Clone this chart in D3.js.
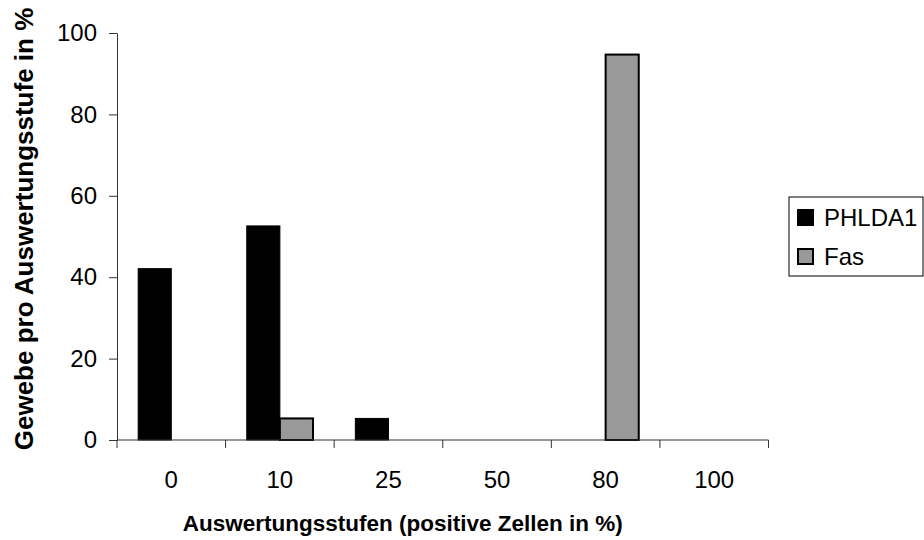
<!DOCTYPE html>
<html>
<head>
<meta charset="utf-8">
<script src="https://cdn.jsdelivr.net/npm/d3@7"></script>
<style>
  body { margin: 0; background: #fff; }
  text { font-family: "Liberation Sans", Arial, sans-serif; }
</style>
</head>
<body>
<div id="chart"></div>
<script>
// categories (Auswertungsstufen) and values in %
var categories = ["0", "10", "25", "50", "80", "100"];
var seriesNames = ["PHLDA1", "Fas"];
var phlda1 = [42.1, 52.6, 5.3, 0, 0, 0];
var fas = [0, 5.3, 0, 0, 94.7, 0];
var yTicks = [0, 20, 40, 60, 80, 100];

var width = 924, height = 540;
var margin = { top: 33, right: 156, bottom: 100, left: 117 };

var svg = d3.select("#chart")
  .append("svg")
  .attr("width", width)
  .attr("height", height);

var x = d3.scaleBand()
  .domain(categories)
  .range([margin.left, 768.5]);

var groupW = x.bandwidth() * 0.61;
var x1 = d3.scaleBand()
  .domain(seriesNames)
  .range([(x.bandwidth() - groupW) / 2, (x.bandwidth() + groupW) / 2]);

var y = d3.scaleLinear()
  .domain([0, 100])
  .range([height - margin.bottom, margin.top]);

var color = { PHLDA1: "#000000", Fas: "#999999" };

var rows = categories.map(function(c, i) {
  return { cat: c, values: [
    { key: "PHLDA1", value: phlda1[i] },
    { key: "Fas", value: fas[i] }
  ] };
});

// bars
var groups = svg.append("g").selectAll("g")
  .data(rows)
  .enter()
  .append("g")
  .attr("transform", function(d) { return "translate(" + x(d.cat) + ",0)"; });

groups.selectAll("rect")
  .data(function(d) { return d.values.filter(function(v) { return v.value > 0; }); })
  .enter()
  .append("rect")
  .attr("x", function(d) { return x1(d.key); })
  .attr("y", function(d) { return y(d.value); })
  .attr("width", x1.bandwidth())
  .attr("height", function(d) { return y(0) - y(d.value); })
  .attr("fill", function(d) { return color[d.key]; })
  .attr("stroke", "#000")
  .attr("stroke-width", function(d) { return d.key == "Fas" ? 2 : 1; });

// y axis
var yAxis = svg.append("g")
  .attr("transform", "translate(" + margin.left + ",0)")
  .call(d3.axisLeft(y).tickValues(yTicks).tickSize(8).tickSizeOuter(0).tickPadding(12));
yAxis.selectAll("text").attr("font-size", 24).attr("fill", "#000")
  .style("font-family", "'Liberation Sans', Arial, sans-serif");
yAxis.selectAll("line, path").attr("stroke", "#333");

// x axis: ticks on band boundaries
var xAxisG = svg.append("g")
  .attr("transform", "translate(0," + y(0) + ")");
xAxisG.append("line")
  .attr("x1", x.range()[0]).attr("x2", x.range()[1])
  .attr("stroke", "#333");
var bounds = categories.map(function(c) { return x(c); }).concat([x.range()[1]]);
xAxisG.selectAll(".tk")
  .data(bounds)
  .enter()
  .append("line")
  .attr("x1", function(d) { return d; })
  .attr("x2", function(d) { return d; })
  .attr("y1", 0).attr("y2", 8)
  .attr("stroke", "#333");
xAxisG.selectAll(".lbl")
  .data(categories)
  .enter()
  .append("text")
  .attr("x", function(d) { return x(d) + x.bandwidth() / 2; })
  .attr("y", 48)
  .attr("text-anchor", "middle")
  .attr("font-size", 24)
  .text(function(d) { return d; });

// axis titles
svg.append("text")
  .attr("x", (x.range()[0] + x.range()[1]) / 2 - 40)
  .attr("y", 531)
  .attr("text-anchor", "middle")
  .attr("font-size", 22.5)
  .attr("font-weight", "bold")
  .text("Auswertungsstufen (positive Zellen in %)");

svg.append("text")
  .attr("transform", "translate(33," + 229 + ") rotate(-90)")
  .attr("text-anchor", "middle")
  .attr("font-size", 26)
  .attr("font-weight", "bold")
  .text("Gewebe pro Auswertungsstufe in %");

// legend
var legend = svg.append("g").attr("transform", "translate(789,197)");
legend.append("rect")
  .attr("width", 134).attr("height", 79)
  .attr("fill", "#fff").attr("stroke", "#000").attr("stroke-width", 1);
var items = legend.selectAll(".item")
  .data(seriesNames)
  .enter()
  .append("g")
  .attr("transform", function(d, i) { return "translate(9," + (13 + i * 39) + ")"; });
items.append("rect")
  .attr("width", 15).attr("height", 15)
  .attr("fill", function(d) { return color[d]; })
  .attr("stroke", "#000")
  .attr("stroke-width", 2);
items.append("text")
  .attr("x", 26)
  .attr("y", 16)
  .attr("font-size", 24)
  .text(function(d) { return d; });
</script>
</body>
</html>
